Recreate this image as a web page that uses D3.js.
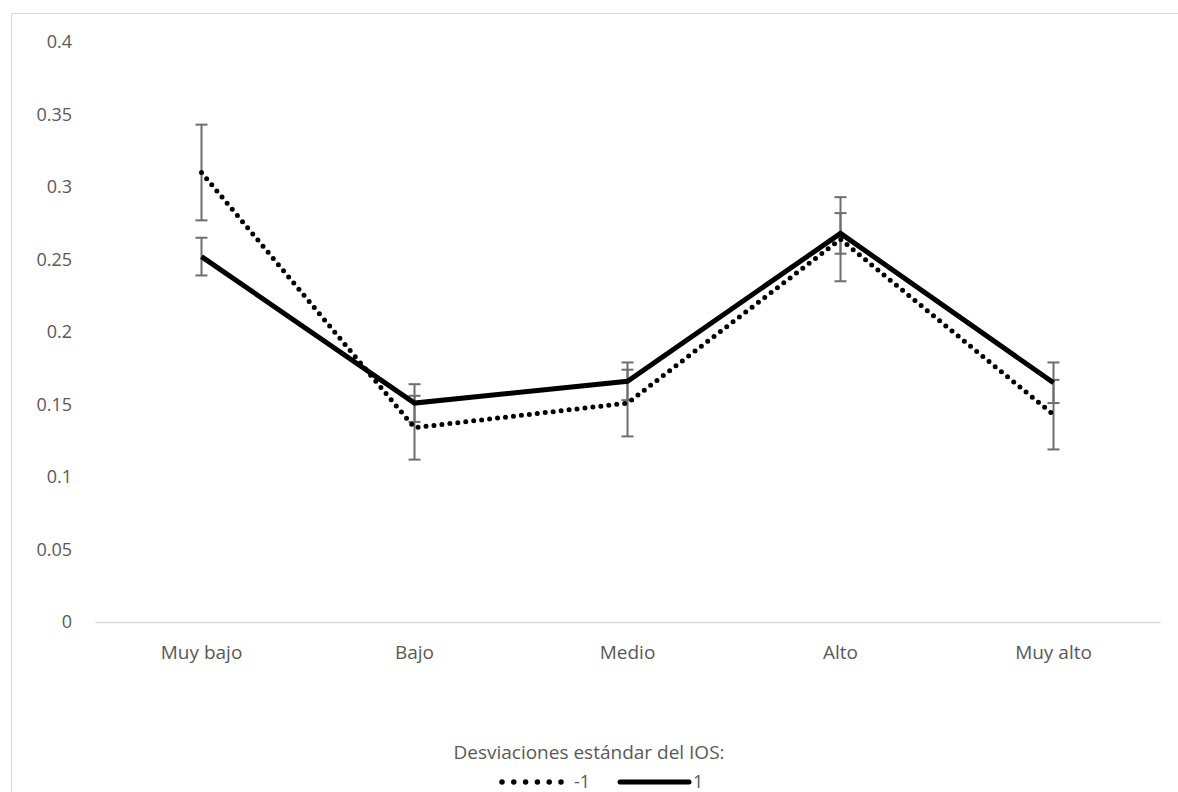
<!DOCTYPE html>
<html>
<head>
<meta charset="utf-8">
<script src="https://cdn.jsdelivr.net/npm/d3@7"></script>
<style>
  body { margin: 0; background: #fff; }
  text { font-family: "Open Sans", "DejaVu Sans", sans-serif; fill: #595959; }
</style>
</head>
<body>
<div id="chart"></div>
<script>
// datos
var categorias = ["Muy bajo", "Bajo", "Medio", "Alto", "Muy alto"];
var serieMenos1 = [0.310, 0.134, 0.151, 0.264, 0.143];
var errorMenos1 = [0.033, 0.022, 0.023, 0.029, 0.024];
var serieMas1 = [0.252, 0.151, 0.166, 0.268, 0.165];
var errorMas1 = [0.013, 0.013, 0.013, 0.014, 0.014];
var ticksY = [0, 0.05, 0.1, 0.15, 0.2, 0.25, 0.3, 0.35, 0.4];

var width = 1178, height = 792;
var margin = {top: 42, right: 18, bottom: 170, left: 95};

var svg = d3.select("#chart")
            .append("svg")
            .attr("width", width)
            .attr("height", height);

// borde del área del gráfico
svg.append("rect")
   .attr("x", 11.5).attr("y", 13.5)
   .attr("width", 1180).attr("height", 790)
   .attr("fill", "none")
   .attr("stroke", "#d9d9d9");

var x = d3.scaleBand()
          .domain(categorias)
          .range([margin.left, width - margin.right]);

var y = d3.scaleLinear()
          .domain([0, 0.4])
          .range([height - margin.bottom, margin.top]);

// eje Y (solo etiquetas)
var ejeY = svg.append("g")
              .attr("transform", "translate(" + margin.left + ",0)")
              .call(d3.axisLeft(y).tickValues(ticksY).tickSize(0).tickPadding(23)
                      .tickFormat(function(d){ return d === 0 ? "0" : String(+d.toFixed(2)); }));
ejeY.select(".domain").remove();
ejeY.selectAll("text").attr("font-size", 18).style("fill", "#595959")
    .style("font-family", "'Open Sans', sans-serif");

// eje X
var ejeX = svg.append("g")
              .attr("transform", "translate(0," + y(0) + ")")
              .call(d3.axisBottom(x).tickSize(0).tickPadding(24));
ejeX.select(".domain").attr("stroke", "#d9d9d9").attr("stroke-width", 1.5);
ejeX.selectAll("text").attr("font-size", 19).style("fill", "#595959")
    .style("font-family", "'Open Sans', sans-serif");

function cx(i){ return x(categorias[i]) + x.bandwidth() / 2; }

// barras de error
function barrasError(valores, errores){
  var g = svg.append("g");
  valores.forEach(function(v, i){
    var xc = cx(i);
    g.append("line")
     .attr("x1", xc).attr("x2", xc)
     .attr("y1", y(v + errores[i])).attr("y2", y(v - errores[i]))
     .attr("stroke", "#6e6e6e").attr("stroke-width", 2);
    [v + errores[i], v - errores[i]].forEach(function(e){
      g.append("line")
       .attr("x1", xc - 6).attr("x2", xc + 6)
       .attr("y1", y(e)).attr("y2", y(e))
       .attr("stroke", "#6e6e6e").attr("stroke-width", 2);
    });
  });
}
barrasError(serieMenos1, errorMenos1);
barrasError(serieMas1, errorMas1);

var linea = d3.line()
              .x(function(d, i){ return cx(i); })
              .y(function(d){ return y(d); });

svg.append("path")
   .datum(serieMenos1)
   .attr("d", linea)
   .attr("fill", "none")
   .attr("stroke", "#000")
   .attr("stroke-width", 5)
   .attr("stroke-linecap", "round")
   .attr("stroke-dasharray", "0 8");

svg.append("path")
   .datum(serieMas1)
   .attr("d", linea)
   .attr("fill", "none")
   .attr("stroke", "#000")
   .attr("stroke-width", 5)
   .attr("stroke-linejoin", "miter");

// leyenda
svg.append("text")
   .attr("x", 589).attr("y", 759)
   .attr("text-anchor", "middle")
   .attr("font-size", 19)
   .text("Desviaciones estándar del IOS:");

var leyenda = svg.append("g");
leyenda.append("line")
       .attr("x1", 502).attr("x2", 562)
       .attr("y1", 782).attr("y2", 782)
       .attr("stroke", "#000").attr("stroke-width", 5.5)
       .attr("stroke-linecap", "round").attr("stroke-dasharray", "0 11.8");
leyenda.append("text")
       .attr("x", 574).attr("y", 782)
       .attr("dy", "0.35em")
       .attr("font-size", 18)
       .text("-1");
leyenda.append("line")
       .attr("x1", 620).attr("x2", 689)
       .attr("y1", 782).attr("y2", 782)
       .attr("stroke", "#000").attr("stroke-width", 5)
       .attr("stroke-linecap", "round");
leyenda.append("text")
       .attr("x", 693).attr("y", 782)
       .attr("dy", "0.35em")
       .attr("font-size", 18)
       .text("1");
</script>
</body>
</html>
